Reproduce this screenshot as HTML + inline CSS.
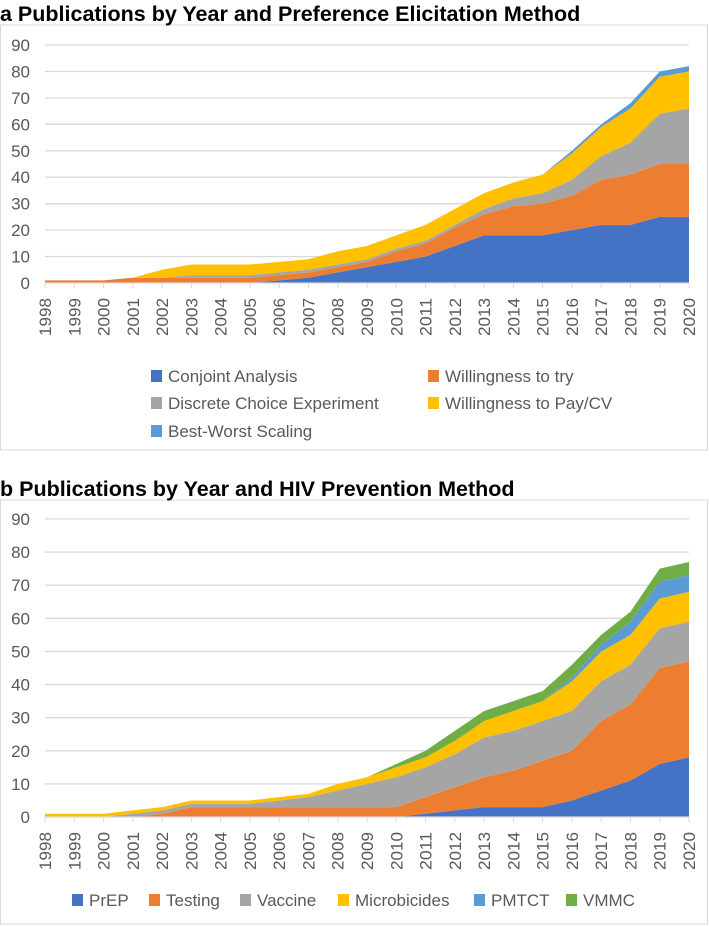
<!DOCTYPE html>
<html><head><meta charset="utf-8"><style>
body{margin:0;background:#fff;width:709px;height:926px;overflow:hidden;font-family:"Liberation Sans",sans-serif}
svg{position:absolute;left:0;top:0}
</style></head><body>
<svg id="s" width="709" height="926"></svg>
<script>
const years=[1998,1999,2000,2001,2002,2003,2004,2005,2006,2007,2008,2009,2010,2011,2012,2013,2014,2015,2016,2017,2018,2019,2020];
const yTicks=[0,10,20,30,40,50,60,70,80,90];
const aNames=["Conjoint Analysis","Willingness to try","Discrete Choice Experiment","Willingness to Pay/CV","Best-Worst Scaling"];
const aColors=["#4472c4","#ed7d31","#a5a5a5","#ffc000","#5b9bd5"];
const aConjoint=[0,0,0,0,0,0,0,0,1,2,4,6,8,10,14,18,18,18,20,22,22,25,25];
const aWTT=[1,1,1,2,2,2,2,2,2,2,2,2,4,5,7,8,11,12,13,17,19,20,20];
const aDCE=[0,0,0,0,0,1,1,1,1,1,1,1,1,1,1,2,3,4,6,9,12,19,21];
const aWTP=[0,0,0,0,3,4,4,4,4,4,5,5,5,6,6,6,6,7,10,11,13,14,14];
const aBWS=[0,0,0,0,0,0,0,0,0,0,0,0,0,0,0,0,0,0,1,1,2,2,2];
const bNames=["PrEP","Testing","Vaccine","Microbicides","PMTCT","VMMC"];
const bColors=["#4472c4","#ed7d31","#a5a5a5","#ffc000","#5b9bd5","#70ad47"];
const bPrEP=[0,0,0,0,0,0,0,0,0,0,0,0,0,1,2,3,3,3,5,8,11,16,18];
const bTesting=[0,0,0,0,1,3,3,3,3,3,3,3,3,5,7,9,11,14,15,21,23,29,29];
const bVaccine=[0,0,0,1,1,1,1,1,2,3,5,7,9,9,10,12,12,12,12,12,12,12,12];
const bMicro=[1,1,1,1,1,1,1,1,1,1,2,2,3,3,4,5,6,6,9,9,9,9,9];
const bPMTCT=[0,0,0,0,0,0,0,0,0,0,0,0,0,0,0,0,0,0,1,2,4,5,5];
const bVMMC=[0,0,0,0,0,0,0,0,0,0,0,0,1,2,3,3,3,3,4,3,3,4,4];

const NS="http://www.w3.org/2000/svg";
const svg=document.getElementById('s');
function mk(tag,attrs,parent){const e=document.createElementNS(NS,tag);for(const k in attrs)e.setAttribute(k,attrs[k]);(parent||svg).appendChild(e);return e;}

function chart(cfg){
  const g=mk('g',{});
  
  
  const box=mk('rect',{x:0.5,y:cfg.boxTop,width:707,height:cfg.boxH,fill:'#fff',stroke:'#d9d9d9'},g);
  
  
  const t=mk('text',{x:0,y:cfg.titleY,'font-size':21.5,'font-weight':'bold',fill:'#000'},g);
  t.textContent=cfg.title;
  
  
  const x0=45,x1=689,y0=cfg.y0,y90=cfg.y90;
  const xs=i=>x0+(x1-x0)*i/(years.length-1);
  const ys=v=>y0+(y90-y0)*v/90;
  yTicks.forEach(v=>{
    if(v>0){const l=mk('line',{x1:x0,x2:x1,y1:ys(v),y2:ys(v),stroke:'#d9d9d9','stroke-width':1.3},g);
    
    }
    const tx=mk('text',{x:30,y:ys(v)+6,'font-size':17,fill:'#595959','text-anchor':'end'},g);
    tx.textContent=v;
    
    
  });
  let cum=years.map(()=>0);
  cfg.series.forEach((s,k)=>{
    const lo=cum.slice();cum=cum.map((c,i)=>c+s[i]);
    let d='M'+years.map((_,i)=>xs(i)+','+ys(cum[i])).join('L');
    for(let i=years.length-1;i>=0;i--)d+='L'+xs(i)+','+ys(lo[i]);
    const p=mk('path',{d:d+'Z',fill:cfg.colors[k]},g);
    
    
  });
  const ax=mk('line',{x1:x0,x2:x1,y1:y0,y2:y0,stroke:'#d9d9d9','stroke-width':1.3},g);
  
  
  years.forEach((yr,i)=>{
    const tk=mk('line',{x1:xs(i),x2:xs(i),y1:y0,y2:y0+5,stroke:'#d9d9d9'},g);
    
    
    const tx=mk('text',{x:0,y:0,'font-size':17,fill:'#595959','text-anchor':'end',textLength:38,lengthAdjust:'spacingAndGlyphs',transform:`translate(${xs(i)+6},${y0+15}) rotate(-90)`},g);
    tx.textContent=yr;
    
    
  });
  cfg.legend.forEach((L,k)=>{
    const r=mk('rect',{x:L[0],y:L[1]-6,width:11,height:12,fill:cfg.colors[k]},g);
    
    
    const tx=mk('text',{x:L[0]+17,y:L[1]+6,'font-size':17,fill:'#595959'},g);
    tx.textContent=cfg.names[k];
    
    
  });
}
chart({name:'chart-a',title:'a Publications by Year and Preference Elicitation Method',titleY:21,boxTop:25,boxH:425,
  y0:283,y90:45,names:aNames,colors:aColors,series:[aConjoint,aWTT,aDCE,aWTP,aBWS],
  legend:[[151,376],[428,376],[151,403],[428,403],[151,431]]});
chart({name:'chart-b',title:'b Publications by Year and HIV Prevention Method',titleY:496,boxTop:500,boxH:424,
  y0:817,y90:519,names:bNames,colors:bColors,series:[bPrEP,bTesting,bVaccine,bMicro,bPMTCT,bVMMC],
  legend:[[72,900],[149,900],[240,900],[338,900],[474,900],[566,900]]});
</script>
</body></html>
